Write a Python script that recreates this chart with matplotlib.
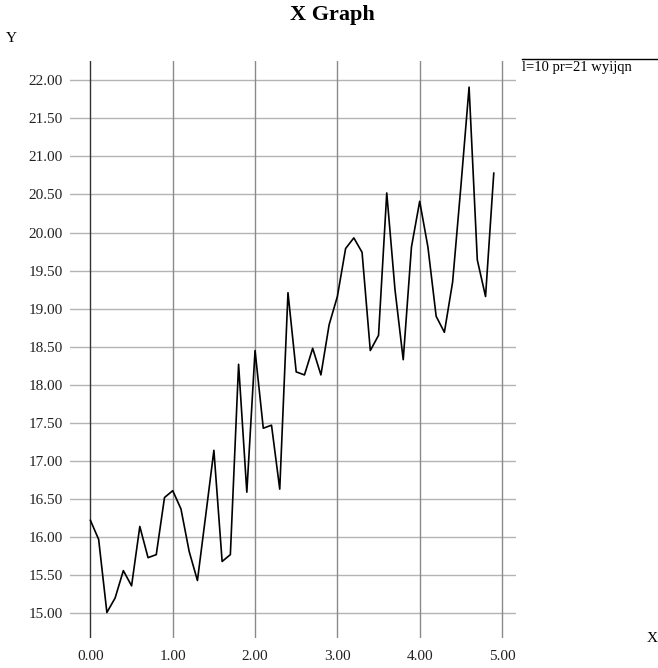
import matplotlib
matplotlib.use("Agg")
import matplotlib.pyplot as plt
from matplotlib.lines import Line2D
import numpy as np

x_values = [round(0.1 * i, 1) for i in range(50)]
y_values = [16.22, 15.97, 15.01, 15.20, 15.56, 15.36, 16.14, 15.73, 15.77, 16.52,
            16.61, 16.37, 15.81, 15.43, 16.28, 17.14, 15.68, 15.77, 18.27, 16.59,
            18.45, 17.43, 17.47, 16.63, 19.21, 18.17, 18.13, 18.48, 18.13, 18.79,
            19.16, 19.79, 19.93, 19.74, 18.45, 18.65, 20.52, 19.25, 18.33, 19.81,
            20.41, 19.81, 18.90, 18.69, 19.35, 20.60, 21.91, 19.64, 19.16, 20.78]
x_ticks = [0, 1, 2, 3, 4, 5]
y_ticks = [15.0, 15.5, 16.0, 16.5, 17.0, 17.5, 18.0, 18.5, 19.0, 19.5, 20.0, 20.5, 21.0, 21.5, 22.0]
legend_text = "l=10 pr=21 wyijqn"

plt.rcParams['font.family'] = ['Liberation Serif', 'DejaVu Serif']

W, H = 658, 668
fig = plt.figure(figsize=(W / 100, H / 100), dpi=100)
ax = fig.add_axes([70 / W, 1 - 638 / H, (516 - 70) / W, (638 - 61) / H])

ax.set_xlim(-0.248, 5.17)
ax.set_ylim(14.675, 22.253)

for yt in y_ticks:
    ax.axhline(yt, color='#b4b4b4', lw=1.0, zorder=1)
for xt in x_ticks:
    if xt == 0:
        ax.axvline(xt, color='#333333', lw=1.0, zorder=1)
    else:
        ax.axvline(xt, color='#8a8a8a', lw=1.0, zorder=1)

ax.plot(x_values, y_values, color='black', lw=1.2, zorder=3)

ax.set_xticks(x_ticks)
ax.set_xticklabels([f"{v:.2f}" for v in x_ticks])
ax.set_yticks(y_ticks)
ax.set_yticklabels([f"{v:.2f}" for v in y_ticks])
ax.tick_params(axis='both', length=0, labelsize=11, colors='#222222')
ax.tick_params(axis='x', pad=9)
ax.tick_params(axis='y', pad=5)
for s in ax.spines.values():
    s.set_visible(False)

fig.text(332 / W, 1 - 15 / H, "X Graph", ha='center', va='center',
         fontsize=16, fontweight='bold')
fig.text(6 / W, 1 - 38 / H, "Y", ha='left', va='center', fontsize=11)
fig.text(647 / W, 1 - 639 / H, "X", ha='left', va='center', fontsize=11)

fig.add_artist(Line2D([522 / W, 1.0], [1 - 59 / H, 1 - 59 / H],
                      transform=fig.transFigure, color='black', lw=1.0))
fig.text(522 / W, 1 - 67 / H, legend_text, ha='left', va='center', fontsize=10.5)

fig.savefig("out.png", dpi=100)
